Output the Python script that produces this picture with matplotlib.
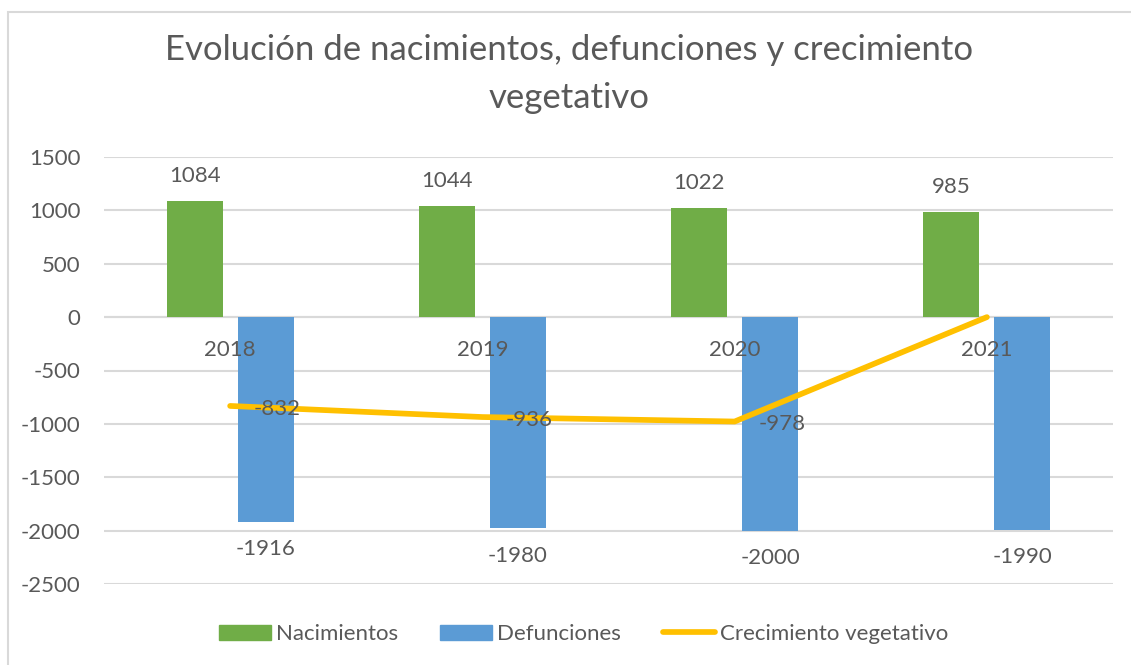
import matplotlib.pyplot as plt
from matplotlib.patches import Patch
from matplotlib.lines import Line2D
import numpy as np

anios = ["2018", "2019", "2020", "2021"]
nacimientos = [1084, 1044, 1022, 985]
defunciones = [-1916, -1980, -2000, -1990]
crecimiento = [-832, -936, -978, 0]
etiquetas_crec = ["-832", "-936", "-978", ""]

verde = "#70AD47"
azul = "#5B9BD5"
amarillo = "#FFC000"
gris = "#595959"
rejilla = "#D9D9D9"
fs = 16

plt.rcParams["font.family"] = ["Lato", "DejaVu Sans"]
plt.rcParams["axes.unicode_minus"] = False

fig = plt.figure(figsize=(11.31, 6.65), dpi=100)
ax = fig.add_axes([104 / 1131, 1 - 584 / 665, (1113 - 104) / 1131, (584 - 157) / 665])

# borde del área del gráfico
fig.patches.append(plt.Rectangle((8 / 1131, -0.1), 1.2, 1 - 12 / 665 + 0.1,
                                 transform=fig.transFigure, fill=False,
                                 edgecolor=rejilla, linewidth=1.5))

x = np.arange(len(anios))
ancho = 0.222
desp = 0.141

ax.bar(x - desp, nacimientos, ancho, color=verde, zorder=2)
ax.bar(x + desp, defunciones, ancho, color=azul, zorder=2)
ax.plot(x, crecimiento, color=amarillo, linewidth=4.1, solid_capstyle="round", zorder=3)

# etiquetas de datos
for xi, v in zip(x, nacimientos):
    ax.annotate(str(v), (xi - desp, v), xytext=(0, 18), textcoords="offset points",
                ha="center", va="center", fontsize=fs, color=gris)
for xi, v in zip(x, defunciones):
    ax.annotate(str(v), (xi + desp, v), xytext=(0, -20), textcoords="offset points",
                ha="center", va="center", fontsize=fs, color=gris)
for xi, v, t in zip(x, crecimiento, etiquetas_crec):
    ax.annotate(t, (xi, v), xytext=(17, -2), textcoords="offset points",
                ha="left", va="center", fontsize=fs, color=gris, zorder=4)

# etiquetas de categoría junto al eje (encima de las barras)
for xi, a in zip(x, anios):
    ax.annotate(a, (xi, 0), xytext=(0, -24), textcoords="offset points",
                ha="center", va="center", fontsize=fs, color=gris, zorder=5)

ax.set_xlim(-0.5, len(anios) - 0.5)
ax.set_ylim(-2500, 1500)
ax.set_yticks(np.arange(-2500, 1501, 500))
ax.yaxis.grid(True, color=rejilla, linewidth=1.5, zorder=0)
ax.set_axisbelow(True)
ax.set_xticks([])
ax.axhline(0, color=rejilla, linewidth=1.5, zorder=1)

for s in ["top", "right", "left", "bottom"]:
    ax.spines[s].set_visible(False)

ax.tick_params(axis="y", length=0, pad=17, labelsize=fs, labelcolor=gris)

fig.text(0.503, 1 - 74 / 665, "Evolución de nacimientos, defunciones y crecimiento\nvegetativo",
         ha="center", va="center", fontsize=25, color=gris, linespacing=1.6)

handles = [Patch(color=verde), Patch(color=azul),
           Line2D([0], [0], color=amarillo, linewidth=4.1, solid_capstyle="round")]
fig.legend(handles, ["Nacimientos", "Defunciones", "Crecimiento vegetativo"],
           loc="center", bbox_to_anchor=(0.516, 1 - 634 / 665), ncol=3, frameon=False,
           fontsize=fs, labelcolor=gris, handlelength=2.35, handleheight=0.68,
           handletextpad=0.22, columnspacing=1.9)

fig.savefig("out.png", dpi=100)
